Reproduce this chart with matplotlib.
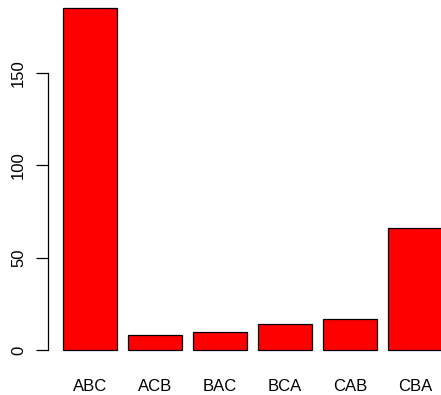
import matplotlib
matplotlib.use("Agg")
import matplotlib.pyplot as plt

categories = ["ABC", "ACB", "BAC", "BCA", "CAB", "CBA"]
counts = [185, 8, 10, 14, 17, 66]
y_ticks = [0, 50, 100, 150]

plt.rcParams['font.family'] = ['Liberation Sans', 'DejaVu Sans']

W, H = 441, 395
fig = plt.figure(figsize=(W / 100, H / 100), dpi=100)

# plot region in pixels (left, right, bottom, top measured from the top edge)
left_px, right_px = 47.5, 457.6
bottom_px, top_px = 363.7, -5.4
ax = fig.add_axes([left_px / W, (H - bottom_px) / H,
                   (right_px - left_px) / W, (bottom_px - top_px) / H])

# bar layout: width 1, spacing 0.2
centers = [0.7 + 1.2 * i for i in range(len(categories))]
ax.bar(centers, counts, width=1.0, color="#FF0000", edgecolor="black",
       linewidth=0.9)

n = len(categories)
x_lo, x_hi = 0.2, 0.2 + 1.2 * n - 0.2
pad_x = 0.04 * (x_hi - x_lo)
ax.set_xlim(x_lo - pad_x, x_hi + pad_x)
y_hi = max(counts)
ax.set_ylim(-0.04 * y_hi, y_hi * 1.04)

for s in ["top", "right", "bottom"]:
    ax.spines[s].set_visible(False)
ax.spines["left"].set_bounds(y_ticks[0], y_ticks[-1])
ax.spines["left"].set_linewidth(0.9)

ax.set_yticks(y_ticks)
ax.set_yticklabels([str(v) for v in y_ticks], rotation=90, va="center",
                   fontsize=12)
ax.tick_params(axis="y", length=8.5, width=0.9, pad=7)

ax.set_xticks(centers)
ax.set_xticklabels(categories, fontsize=12)
ax.tick_params(axis="x", length=0, pad=11)

fig.savefig("out.png", dpi=100)
